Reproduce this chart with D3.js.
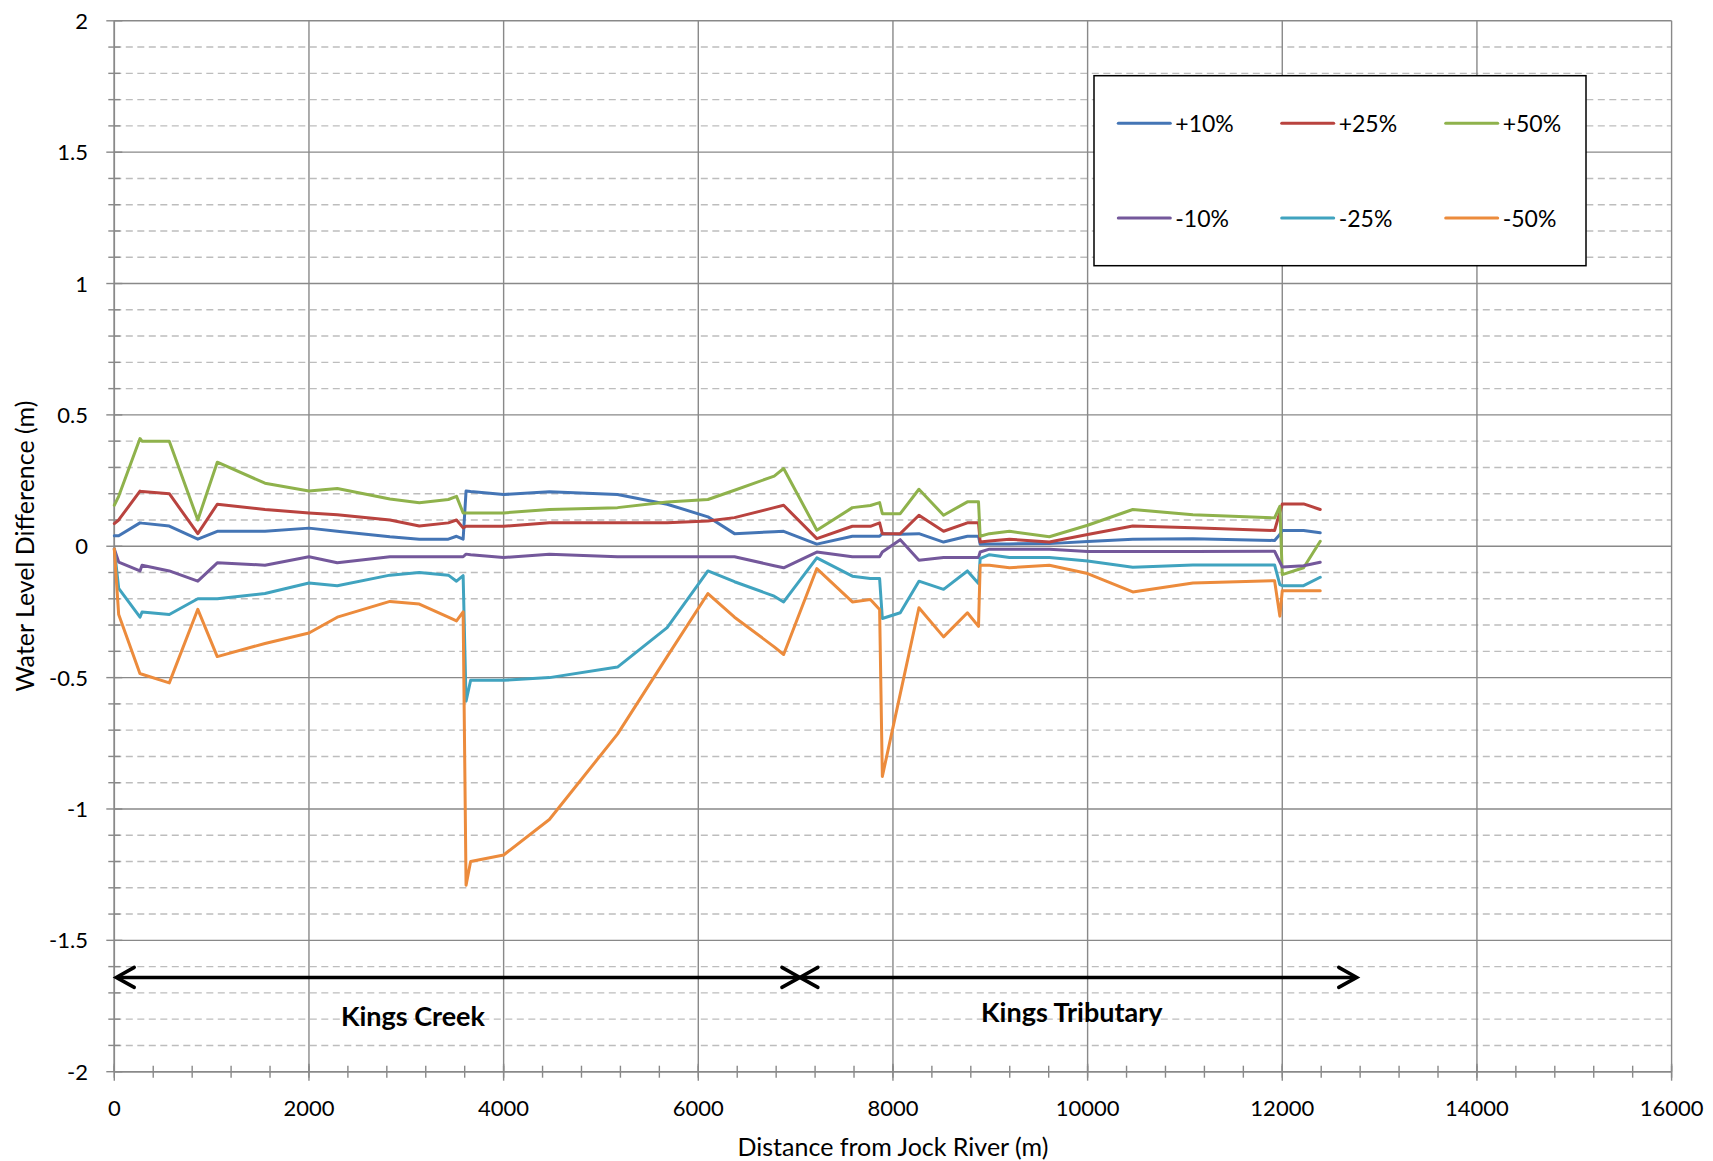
<!DOCTYPE html>
<html>
<head>
<meta charset="utf-8">
<script src="https://cdn.jsdelivr.net/npm/d3@7"></script>
<style>
  html, body { margin: 0; padding: 0; background: #ffffff; }
  svg { display: block; font-family: Lato, "Open Sans", sans-serif; }
</style>
</head>
<body>
<svg id="chart" width="1713" height="1161"></svg>
<script>
// Distance along the channel (m), shared by all scenarios
const distance = [0, 45, 264, 285, 565, 858, 1058, 1548, 2000, 2291, 2832, 3134, 3432, 3516, 3584, 3614, 3661, 4000, 4470, 5170, 5680, 6099, 6372, 6780, 6877, 7218, 7583, 7768, 7863, 7891, 8075, 8267, 8520, 8765, 8879, 8896, 8991, 9197, 9607, 10000, 10464, 11082, 11921, 11975, 12000, 12219, 12390];

// Water level difference (m) for each flow scenario
const plus10 = [0.04, 0.04, 0.089, 0.088, 0.077, 0.027, 0.057, 0.057, 0.069, 0.057, 0.036, 0.027, 0.027, 0.038, 0.027, 0.21, 0.208, 0.197, 0.207, 0.197, 0.16, 0.112, 0.048, 0.055, 0.057, 0.008, 0.038, 0.038, 0.038, 0.048, 0.046, 0.048, 0.016, 0.038, 0.038, 0.008, 0.009, 0.009, 0.01, 0.018, 0.027, 0.029, 0.022, 0.045, 0.06, 0.06, 0.051];
const plus25 = [0.086, 0.10, 0.21, 0.208, 0.20, 0.048, 0.16, 0.14, 0.127, 0.12, 0.10, 0.077, 0.089, 0.10, 0.07, 0.076, 0.076, 0.076, 0.089, 0.089, 0.089, 0.096, 0.109, 0.147, 0.156, 0.029, 0.076, 0.076, 0.089, 0.048, 0.048, 0.118, 0.057, 0.089, 0.089, 0.016, 0.02, 0.027, 0.016, 0.045, 0.077, 0.07, 0.06, 0.13, 0.161, 0.161, 0.14];
const plus50 = [0.156, 0.19, 0.41, 0.40, 0.40, 0.10, 0.32, 0.24, 0.21, 0.22, 0.18, 0.166, 0.178, 0.19, 0.127, 0.127, 0.127, 0.127, 0.14, 0.147, 0.168, 0.178, 0.213, 0.267, 0.296, 0.061, 0.147, 0.155, 0.166, 0.124, 0.124, 0.217, 0.118, 0.169, 0.169, 0.038, 0.048, 0.057, 0.036, 0.08, 0.14, 0.12, 0.108, 0.152, -0.108, -0.082, 0.019];
const minus10 = [-0.01, -0.06, -0.094, -0.072, -0.094, -0.133, -0.063, -0.072, -0.04, -0.063, -0.04, -0.04, -0.04, -0.04, -0.04, -0.03, -0.032, -0.043, -0.03, -0.04, -0.04, -0.04, -0.04, -0.074, -0.082, -0.022, -0.04, -0.04, -0.04, -0.022, 0.025, -0.053, -0.043, -0.043, -0.043, -0.022, -0.011, -0.011, -0.011, -0.02, -0.02, -0.02, -0.019, -0.06, -0.079, -0.074, -0.061];
const minus25 = [-0.01, -0.16, -0.27, -0.25, -0.26, -0.20, -0.20, -0.18, -0.14, -0.15, -0.11, -0.10, -0.11, -0.133, -0.112, -0.59, -0.51, -0.51, -0.50, -0.46, -0.31, -0.094, -0.135, -0.19, -0.212, -0.044, -0.114, -0.123, -0.123, -0.275, -0.253, -0.133, -0.164, -0.094, -0.142, -0.047, -0.032, -0.043, -0.043, -0.056, -0.08, -0.071, -0.071, -0.146, -0.15, -0.15, -0.118];
const minus50 = [-0.01, -0.26, -0.485, -0.487, -0.52, -0.24, -0.42, -0.37, -0.33, -0.27, -0.21, -0.22, -0.27, -0.284, -0.25, -1.29, -1.20, -1.175, -1.04, -0.715, -0.42, -0.18, -0.27, -0.383, -0.412, -0.085, -0.212, -0.203, -0.241, -0.876, -0.562, -0.234, -0.345, -0.253, -0.305, -0.072, -0.072, -0.082, -0.072, -0.104, -0.174, -0.14, -0.131, -0.266, -0.169, -0.169, -0.169];

const seriesNames = ["+10%", "+25%", "+50%", "-10%", "-25%", "-50%"];
const seriesValues = [plus10, plus25, plus50, minus10, minus25, minus50];
const seriesColors = ["#4475B5", "#B9433F", "#8FB24C", "#74589B", "#40A3BF", "#EC8B3C"];

// Axis ticks
const xTicks = [0, 2000, 4000, 6000, 8000, 10000, 12000, 14000, 16000];
const yTicks = [-2, -1.5, -1, -0.5, 0, 0.5, 1, 1.5, 2];
const yTickLabels = ["-2", "-1.5", "-1", "-0.5", "0", "0.5", "1", "1.5", "2"];

// Reach annotations
const reachNames = ["Kings Creek", "Kings Tributary"];
const reachStart = [20, 7044];
const reachEnd = [7044, 12765];
const reachLevel = -1.641;
const reachLabelX = [3068, 9838];
const reachLabelY = [-1.826, -1.81];

const svg = d3.select("#chart");
const plotLeft = 114.3, plotRight = 1671.6, plotTop = 20.8, plotBottom = 1071.7;

const x = d3.scaleLinear().domain([0, 16000]).range([plotLeft, plotRight]);
const y = d3.scaleLinear().domain([-2, 2]).range([plotBottom, plotTop]);

const gridMajor = "#898989";
const gridMinor = "#bdbdbd";

// Minor horizontal gridlines (dashed, every 0.1 m)
const minorY = d3.range(-20, 21).map(i => i / 10).filter(v => Math.abs(v * 2 - Math.round(v * 2)) > 1e-6);
svg.append("g").selectAll("line").data(minorY).join("line")
  .attr("x1", x(0)).attr("x2", x(16000))
  .attr("y1", d => y(d)).attr("y2", d => y(d))
  .attr("stroke", gridMinor).attr("stroke-width", 1.4)
  .attr("stroke-dasharray", "7,4.5");

// Major horizontal gridlines
svg.append("g").selectAll("line").data(yTicks).join("line")
  .attr("x1", x(0)).attr("x2", x(16000))
  .attr("y1", d => y(d)).attr("y2", d => y(d))
  .attr("stroke", gridMajor).attr("stroke-width", 1.4);

// Major vertical gridlines
svg.append("g").selectAll("line").data(xTicks).join("line")
  .attr("x1", d => x(d)).attr("x2", d => x(d))
  .attr("y1", y(2)).attr("y2", y(-2))
  .attr("stroke", gridMajor).attr("stroke-width", 1.4);

// Y axis with crossing tick marks
const yAxis = svg.append("g");
yAxis.append("line").attr("x1", x(0)).attr("x2", x(0)).attr("y1", y(2)).attr("y2", y(-2))
  .attr("stroke", gridMajor).attr("stroke-width", 1.6);
yAxis.selectAll("line.minor").data(minorY).join("line").attr("class", "minor")
  .attr("x1", x(0) - 6).attr("x2", x(0) + 6)
  .attr("y1", d => y(d)).attr("y2", d => y(d))
  .attr("stroke", gridMajor).attr("stroke-width", 1.4);
yAxis.selectAll("line.major").data(yTicks).join("line").attr("class", "major")
  .attr("x1", x(0) - 8).attr("x2", x(0) + 8)
  .attr("y1", d => y(d)).attr("y2", d => y(d))
  .attr("stroke", gridMajor).attr("stroke-width", 1.4);
yAxis.selectAll("text").data(yTicks).join("text")
  .attr("x", 88).attr("y", d => y(d) + 8)
  .attr("text-anchor", "end").attr("font-size", 22).attr("fill", "#000")
  .text((d, i) => yTickLabels[i]);

// X axis with crossing tick marks
const minorX = d3.range(0, 16001, 400);
const xAxis = svg.append("g");
xAxis.append("line").attr("x1", x(0)).attr("x2", x(16000)).attr("y1", y(-2)).attr("y2", y(-2))
  .attr("stroke", gridMajor).attr("stroke-width", 1.6);
xAxis.selectAll("line.minor").data(minorX).join("line").attr("class", "minor")
  .attr("x1", d => x(d)).attr("x2", d => x(d))
  .attr("y1", y(-2) - 6).attr("y2", y(-2) + 6)
  .attr("stroke", gridMajor).attr("stroke-width", 1.4);
xAxis.selectAll("line.major").data(xTicks).join("line").attr("class", "major")
  .attr("x1", d => x(d)).attr("x2", d => x(d))
  .attr("y1", y(-2) - 8).attr("y2", y(-2) + 9)
  .attr("stroke", gridMajor).attr("stroke-width", 1.4);
xAxis.selectAll("text").data(xTicks).join("text")
  .attr("x", d => x(d)).attr("y", 1116)
  .attr("text-anchor", "middle").attr("font-size", 22).attr("fill", "#000")
  .text(d => d);

// Axis titles
svg.append("text").attr("x", (plotLeft + plotRight) / 2).attr("y", 1156)
  .attr("text-anchor", "middle").attr("font-size", 25).attr("fill", "#000")
  .text("Distance from Jock River (m)");
svg.append("text")
  .attr("transform", `translate(34,${(plotTop + plotBottom) / 2}) rotate(-90)`)
  .attr("text-anchor", "middle").attr("font-size", 25).attr("fill", "#000")
  .text("Water Level Difference (m)");

// Scenario lines
const line = d3.line().x(d => x(d[0])).y(d => y(d[1]));
svg.append("g").selectAll("path").data(seriesValues).join("path")
  .attr("d", vals => line(distance.map((dd, i) => [dd, vals[i]])))
  .attr("fill", "none")
  .attr("stroke", (d, i) => seriesColors[i])
  .attr("stroke-width", 3)
  .attr("stroke-linejoin", "round")
  .attr("stroke-linecap", "round");

// Reach arrows (double-headed) and labels
const arrows = svg.append("g");
function arrowHead(g, tipX, tipY, dir) {
  const back = 18, spread = 10;
  g.append("path")
    .attr("d", `M${tipX - dir * back},${tipY - spread} L${tipX},${tipY} L${tipX - dir * back},${tipY + spread}`)
    .attr("fill", "none").attr("stroke", "#000").attr("stroke-width", 3.5)
    .attr("stroke-linecap", "round").attr("stroke-linejoin", "miter");
}
reachNames.forEach((name, i) => {
  const x1 = x(reachStart[i]), x2 = x(reachEnd[i]), yy = y(reachLevel);
  arrows.append("line").attr("x1", x1 + 1).attr("x2", x2 - 1).attr("y1", yy).attr("y2", yy)
    .attr("stroke", "#000").attr("stroke-width", 3.5);
  arrowHead(arrows, x1, yy, -1);
  arrowHead(arrows, x2, yy, 1);
  arrows.append("text")
    .attr("x", x(reachLabelX[i])).attr("y", y(reachLabelY[i]))
    .attr("text-anchor", "middle").attr("font-size", 27).attr("font-weight", "bold")
    .attr("fill", "#000").text(name);
});

// Legend
const legend = svg.append("g");
legend.append("rect").attr("x", 1094).attr("y", 75.7).attr("width", 492).attr("height", 190)
  .attr("fill", "#fff").attr("stroke", "#000").attr("stroke-width", 1.5);
const colX = [1118.3, 1281.7, 1445.7];
const rowY = [123.3, 218];
seriesNames.forEach((name, i) => {
  const cx = colX[i % 3], cy = rowY[Math.floor(i / 3)];
  legend.append("line").attr("x1", cx).attr("x2", cx + 52).attr("y1", cy).attr("y2", cy)
    .attr("stroke", seriesColors[i]).attr("stroke-width", 3).attr("stroke-linecap", "round");
  legend.append("text").attr("x", cx + 57).attr("y", cy + 8.5)
    .attr("font-size", 23).attr("fill", "#000").text(name);
});
</script>
</body>
</html>
